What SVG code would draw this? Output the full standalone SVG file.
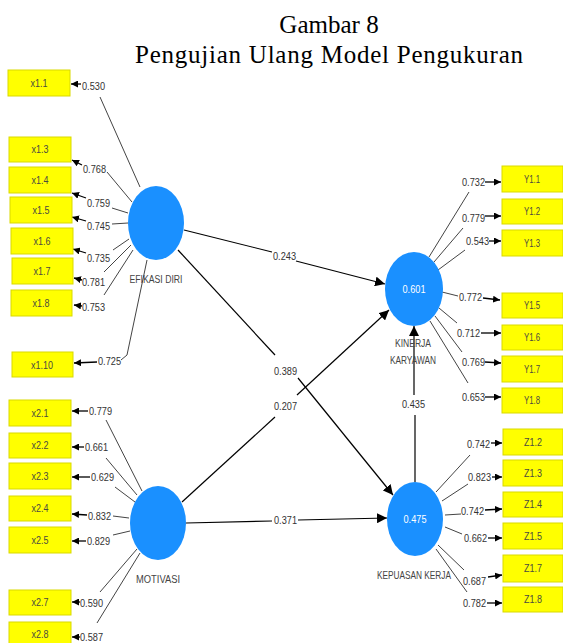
<svg xmlns="http://www.w3.org/2000/svg" width="563" height="643" viewBox="0 0 563 643">
<style>
.bg{fill:#ffffff}
.title{font-family:"Liberation Serif","Times New Roman",serif;font-size:25px;fill:#000;text-anchor:middle}
.box{fill:#FFFF00;stroke:#D9D900;stroke-width:1}
.bt{font-family:"Liberation Sans",Arial,sans-serif;font-size:11px;fill:#4a4a40;text-anchor:middle}
.num{font-family:"Liberation Sans",Arial,sans-serif;font-size:11px;fill:#333}
.nl{font-family:"Liberation Sans",Arial,sans-serif;font-size:10px;fill:#444;text-anchor:middle}
.val{font-family:"Liberation Sans",Arial,sans-serif;font-size:11px;fill:#ffffff;text-anchor:middle}
.lv{fill:#1A90FF}
.ld{stroke:#444;stroke-width:1;fill:none}
.la{stroke:#000;stroke-width:1.3;fill:none;marker-end:url(#ah)}
.pa{stroke:#000;stroke-width:1.2;fill:none}
.pm{stroke:#000;stroke-width:1.2;fill:none;marker-end:url(#ab)}
</style>
<defs>
<marker id="ah" viewBox="0 0 10 10" refX="10" refY="5" markerWidth="7" markerHeight="7" markerUnits="userSpaceOnUse" orient="auto">
<path d="M0,0 L10,5 L0,10 z" fill="#000"/>
</marker>
<marker id="ab" viewBox="0 0 10 10" refX="10" refY="5" markerWidth="10" markerHeight="10" markerUnits="userSpaceOnUse" orient="auto">
<path d="M0,0 L10,5 L0,10 z" fill="#000"/>
</marker>
</defs>
<rect class="bg" x="0" y="0" width="563" height="643"/>
<text class="title" x="329" y="33">Gambar 8</text>
<text class="title" x="329" y="63" textLength="388">Pengujian Ulang Model Pengukuran</text>

<g id="connectors">
<line class="ld" x1="100" y1="97" x2="140" y2="187"/>
<line class="la" x1="81" y1="84" x2="71" y2="84"/>
<line class="ld" x1="107" y1="172" x2="132" y2="202"/>
<line class="la" x1="82" y1="165" x2="72" y2="160"/>
<line class="ld" x1="112" y1="208" x2="128" y2="213"/>
<line class="la" x1="86" y1="198" x2="72" y2="193"/>
<line class="ld" x1="112" y1="224" x2="128" y2="223"/>
<line class="la" x1="86" y1="221" x2="72" y2="217"/>
<line class="ld" x1="113" y1="250" x2="129" y2="239"/>
<line class="la" x1="86" y1="253" x2="73" y2="249"/>
<line class="ld" x1="104" y1="272" x2="131" y2="245"/>
<line class="la" x1="82" y1="280" x2="74" y2="278"/>
<line class="ld" x1="104" y1="295" x2="133" y2="250"/>
<line class="la" x1="82" y1="306" x2="74" y2="305"/>
<polyline class="ld" points="121,360 127,355 147,260"/>
<line class="la" x1="97" y1="362" x2="74" y2="363"/>
<line class="ld" x1="106" y1="420" x2="142" y2="491"/>
<line class="la" x1="88" y1="411" x2="72" y2="411"/>
<line class="ld" x1="106" y1="458" x2="137" y2="495"/>
<line class="la" x1="84" y1="447" x2="72" y2="447"/>
<line class="ld" x1="115" y1="487" x2="135" y2="502"/>
<line class="la" x1="90" y1="477" x2="72" y2="477"/>
<line class="ld" x1="113" y1="516" x2="129" y2="518"/>
<line class="la" x1="87" y1="515" x2="72" y2="514"/>
<line class="ld" x1="113" y1="535" x2="130" y2="531"/>
<line class="la" x1="86" y1="541" x2="72" y2="541"/>
<line class="ld" x1="100" y1="592" x2="137" y2="549"/>
<line class="la" x1="80" y1="602" x2="72" y2="602"/>
<line class="ld" x1="97" y1="623" x2="140" y2="553"/>
<line class="la" x1="80" y1="637" x2="72" y2="637"/>
<line class="ld" x1="469" y1="192" x2="429" y2="257"/>
<line class="la" x1="485" y1="182" x2="501" y2="182"/>
<line class="ld" x1="463" y1="228" x2="434" y2="262"/>
<line class="la" x1="485" y1="216" x2="501" y2="216"/>
<line class="ld" x1="465" y1="250" x2="438" y2="270"/>
<line class="la" x1="489" y1="241" x2="501" y2="241"/>
<line class="ld" x1="442" y1="292" x2="458" y2="296"/>
<line class="la" x1="483" y1="298" x2="500" y2="300"/>
<line class="ld" x1="439" y1="308" x2="457" y2="323"/>
<line class="la" x1="481" y1="333" x2="501" y2="333"/>
<line class="ld" x1="435" y1="316" x2="462" y2="352"/>
<line class="la" x1="485" y1="362" x2="501" y2="363"/>
<line class="ld" x1="430" y1="321" x2="468" y2="383"/>
<line class="la" x1="485" y1="397" x2="501" y2="397"/>
<line class="ld" x1="436" y1="492" x2="470" y2="455"/>
<line class="la" x1="491" y1="443" x2="502" y2="443"/>
<line class="ld" x1="442" y1="501" x2="468" y2="484"/>
<line class="la" x1="492" y1="477" x2="502" y2="477"/>
<line class="ld" x1="445" y1="515" x2="461" y2="514"/>
<line class="la" x1="485" y1="510" x2="502" y2="509"/>
<line class="ld" x1="445" y1="527" x2="462" y2="534"/>
<line class="la" x1="488" y1="538" x2="502" y2="538"/>
<line class="ld" x1="438" y1="545" x2="464" y2="570"/>
<line class="la" x1="488" y1="577" x2="502" y2="575"/>
<line class="ld" x1="436" y1="549" x2="467" y2="592"/>
<line class="la" x1="487" y1="603" x2="502" y2="603"/>
<line class="pa" x1="184" y1="230" x2="272" y2="252"/>
<line class="pm" x1="296" y1="261" x2="385" y2="284"/>
<line class="pa" x1="178" y1="250" x2="275" y2="355"/>
<line class="pm" x1="298" y1="378" x2="393" y2="495"/>
<line class="pa" x1="182" y1="502" x2="275" y2="417"/>
<line class="pm" x1="297" y1="395" x2="389" y2="310"/>
<line class="pa" x1="186" y1="523" x2="272" y2="521"/>
<line class="pm" x1="298" y1="520" x2="387" y2="518"/>
<line class="pa" x1="415" y1="482" x2="415" y2="415"/>
<line class="pm" x1="414" y1="395" x2="414" y2="326"/>
<text class="num" x="273" y="260" textLength="23" lengthAdjust="spacingAndGlyphs">0.243</text>
<text class="num" x="274" y="375" textLength="23" lengthAdjust="spacingAndGlyphs">0.389</text>
<text class="num" x="274" y="410" textLength="23" lengthAdjust="spacingAndGlyphs">0.207</text>
<text class="num" x="274" y="524" textLength="23" lengthAdjust="spacingAndGlyphs">0.371</text>
<text class="num" x="402" y="408" textLength="23" lengthAdjust="spacingAndGlyphs">0.435</text>
<text class="num" x="82" y="90" textLength="23" lengthAdjust="spacingAndGlyphs">0.530</text>
<text class="num" x="83" y="173" textLength="23" lengthAdjust="spacingAndGlyphs">0.768</text>
<text class="num" x="87" y="207" textLength="23" lengthAdjust="spacingAndGlyphs">0.759</text>
<text class="num" x="87" y="230" textLength="23" lengthAdjust="spacingAndGlyphs">0.745</text>
<text class="num" x="87" y="262" textLength="23" lengthAdjust="spacingAndGlyphs">0.735</text>
<text class="num" x="82" y="286" textLength="23" lengthAdjust="spacingAndGlyphs">0.781</text>
<text class="num" x="82" y="311" textLength="23" lengthAdjust="spacingAndGlyphs">0.753</text>
<text class="num" x="98" y="365" textLength="23" lengthAdjust="spacingAndGlyphs">0.725</text>
<text class="num" x="89" y="415" textLength="23" lengthAdjust="spacingAndGlyphs">0.779</text>
<text class="num" x="85" y="451" textLength="23" lengthAdjust="spacingAndGlyphs">0.661</text>
<text class="num" x="91" y="481" textLength="23" lengthAdjust="spacingAndGlyphs">0.629</text>
<text class="num" x="88" y="520" textLength="23" lengthAdjust="spacingAndGlyphs">0.832</text>
<text class="num" x="87" y="545" textLength="23" lengthAdjust="spacingAndGlyphs">0.829</text>
<text class="num" x="80" y="607" textLength="23" lengthAdjust="spacingAndGlyphs">0.590</text>
<text class="num" x="80" y="641" textLength="23" lengthAdjust="spacingAndGlyphs">0.587</text>
<text class="num" x="462" y="186" textLength="23" lengthAdjust="spacingAndGlyphs">0.732</text>
<text class="num" x="462" y="222" textLength="23" lengthAdjust="spacingAndGlyphs">0.779</text>
<text class="num" x="466" y="245" textLength="23" lengthAdjust="spacingAndGlyphs">0.543</text>
<text class="num" x="459" y="301" textLength="23" lengthAdjust="spacingAndGlyphs">0.772</text>
<text class="num" x="457" y="337" textLength="23" lengthAdjust="spacingAndGlyphs">0.712</text>
<text class="num" x="462" y="366" textLength="23" lengthAdjust="spacingAndGlyphs">0.769</text>
<text class="num" x="462" y="401" textLength="23" lengthAdjust="spacingAndGlyphs">0.653</text>
<text class="num" x="467" y="448" textLength="23" lengthAdjust="spacingAndGlyphs">0.742</text>
<text class="num" x="468" y="481" textLength="23" lengthAdjust="spacingAndGlyphs">0.823</text>
<text class="num" x="461" y="515" textLength="23" lengthAdjust="spacingAndGlyphs">0.742</text>
<text class="num" x="464" y="542" textLength="23" lengthAdjust="spacingAndGlyphs">0.662</text>
<text class="num" x="463" y="585" textLength="23" lengthAdjust="spacingAndGlyphs">0.687</text>
<text class="num" x="463" y="607" textLength="23" lengthAdjust="spacingAndGlyphs">0.782</text>
</g>

<g id="efikasi-diri">
<ellipse class="lv" cx="156" cy="223" rx="28" ry="37"/>
<text class="nl" x="156" y="283" textLength="53" lengthAdjust="spacingAndGlyphs">EFIKASI DIRI</text>
</g>
<g id="motivasi">
<ellipse class="lv" cx="158" cy="523" rx="28" ry="37"/>
<text class="nl" x="158" y="583" textLength="44" lengthAdjust="spacingAndGlyphs">MOTIVASI</text>
</g>
<g id="kinerja-karyawan">
<ellipse class="lv" cx="414" cy="289" rx="29" ry="37"/>
<text class="val" x="414" y="293" textLength="23" lengthAdjust="spacingAndGlyphs">0.601</text>
<text class="nl" x="413" y="347" textLength="36" lengthAdjust="spacingAndGlyphs">KINERJA</text>
<text class="nl" x="413" y="364" textLength="46" lengthAdjust="spacingAndGlyphs">KARYAWAN</text>
</g>
<g id="kepuasan-kerja">
<ellipse class="lv" cx="415" cy="519" rx="28" ry="37"/>
<text class="val" x="415" y="523" textLength="23" lengthAdjust="spacingAndGlyphs">0.475</text>
<text class="nl" x="414" y="579" textLength="74" lengthAdjust="spacingAndGlyphs">KEPUASAN KERJA</text>
</g>

<g id="x1.1"><rect class="box" x="8" y="70" width="62" height="26"/><text class="bt" x="39" y="87" textLength="17" lengthAdjust="spacingAndGlyphs">x1.1</text></g>
<g id="x1.3"><rect class="box" x="9" y="137" width="62" height="25"/><text class="bt" x="40" y="153" textLength="17" lengthAdjust="spacingAndGlyphs">x1.3</text></g>
<g id="x1.4"><rect class="box" x="9" y="167" width="62" height="26"/><text class="bt" x="40" y="184" textLength="17" lengthAdjust="spacingAndGlyphs">x1.4</text></g>
<g id="x1.5"><rect class="box" x="10" y="197" width="62" height="26"/><text class="bt" x="41" y="214" textLength="17" lengthAdjust="spacingAndGlyphs">x1.5</text></g>
<g id="x1.6"><rect class="box" x="11" y="228" width="62" height="26"/><text class="bt" x="42" y="245" textLength="17" lengthAdjust="spacingAndGlyphs">x1.6</text></g>
<g id="x1.7"><rect class="box" x="12" y="258" width="61" height="26"/><text class="bt" x="42" y="275" textLength="17" lengthAdjust="spacingAndGlyphs">x1.7</text></g>
<g id="x1.8"><rect class="box" x="11" y="290" width="61" height="26"/><text class="bt" x="41" y="307" textLength="17" lengthAdjust="spacingAndGlyphs">x1.8</text></g>
<g id="x1.10"><rect class="box" x="12" y="352" width="61" height="25"/><text class="bt" x="42" y="369" textLength="22" lengthAdjust="spacingAndGlyphs">x1.10</text></g>

<g id="x2.1"><rect class="box" x="9" y="400" width="62" height="26"/><text class="bt" x="40" y="417" textLength="17" lengthAdjust="spacingAndGlyphs">x2.1</text></g>
<g id="x2.2"><rect class="box" x="9" y="433" width="62" height="25"/><text class="bt" x="40" y="449" textLength="17" lengthAdjust="spacingAndGlyphs">x2.2</text></g>
<g id="x2.3"><rect class="box" x="9" y="463" width="62" height="26"/><text class="bt" x="40" y="480" textLength="17" lengthAdjust="spacingAndGlyphs">x2.3</text></g>
<g id="x2.4"><rect class="box" x="9" y="496" width="62" height="25"/><text class="bt" x="40" y="512" textLength="17" lengthAdjust="spacingAndGlyphs">x2.4</text></g>
<g id="x2.5"><rect class="box" x="9" y="527" width="62" height="26"/><text class="bt" x="40" y="544" textLength="17" lengthAdjust="spacingAndGlyphs">x2.5</text></g>
<g id="x2.7"><rect class="box" x="9" y="590" width="62" height="25"/><text class="bt" x="40" y="606" textLength="17" lengthAdjust="spacingAndGlyphs">x2.7</text></g>
<g id="x2.8"><rect class="box" x="9" y="622" width="62" height="25"/><text class="bt" x="40" y="638" textLength="17" lengthAdjust="spacingAndGlyphs">x2.8</text></g>

<g id="Y1.1"><rect class="box" x="502" y="166" width="61" height="26"/><text class="bt" x="532" y="183" textLength="16" lengthAdjust="spacingAndGlyphs">Y1.1</text></g>
<g id="Y1.2"><rect class="box" x="502" y="199" width="61" height="25"/><text class="bt" x="532" y="215" textLength="16" lengthAdjust="spacingAndGlyphs">Y1.2</text></g>
<g id="Y1.3"><rect class="box" x="502" y="230" width="61" height="26"/><text class="bt" x="532" y="247" textLength="16" lengthAdjust="spacingAndGlyphs">Y1.3</text></g>
<g id="Y1.5"><rect class="box" x="502" y="293" width="61" height="25"/><text class="bt" x="532" y="309" textLength="16" lengthAdjust="spacingAndGlyphs">Y1.5</text></g>
<g id="Y1.6"><rect class="box" x="502" y="325" width="61" height="25"/><text class="bt" x="532" y="341" textLength="16" lengthAdjust="spacingAndGlyphs">Y1.6</text></g>
<g id="Y1.7"><rect class="box" x="502" y="356" width="61" height="26"/><text class="bt" x="532" y="373" textLength="16" lengthAdjust="spacingAndGlyphs">Y1.7</text></g>
<g id="Y1.8"><rect class="box" x="502" y="388" width="61" height="25"/><text class="bt" x="532" y="404" textLength="16" lengthAdjust="spacingAndGlyphs">Y1.8</text></g>

<g id="Z1.2"><rect class="box" x="503" y="429" width="60" height="26"/><text class="bt" x="533" y="446" textLength="18" lengthAdjust="spacingAndGlyphs">Z1.2</text></g>
<g id="Z1.3"><rect class="box" x="503" y="460" width="60" height="26"/><text class="bt" x="533" y="477" textLength="18" lengthAdjust="spacingAndGlyphs">Z1.3</text></g>
<g id="Z1.4"><rect class="box" x="503" y="492" width="60" height="25"/><text class="bt" x="533" y="508" textLength="18" lengthAdjust="spacingAndGlyphs">Z1.4</text></g>
<g id="Z1.5"><rect class="box" x="503" y="523" width="60" height="26"/><text class="bt" x="533" y="540" textLength="18" lengthAdjust="spacingAndGlyphs">Z1.5</text></g>
<g id="Z1.7"><rect class="box" x="503" y="555" width="60" height="27"/><text class="bt" x="533" y="572" textLength="18" lengthAdjust="spacingAndGlyphs">Z1.7</text></g>
<g id="Z1.8"><rect class="box" x="503" y="587" width="60" height="25"/><text class="bt" x="533" y="603" textLength="18" lengthAdjust="spacingAndGlyphs">Z1.8</text></g>
</svg>
